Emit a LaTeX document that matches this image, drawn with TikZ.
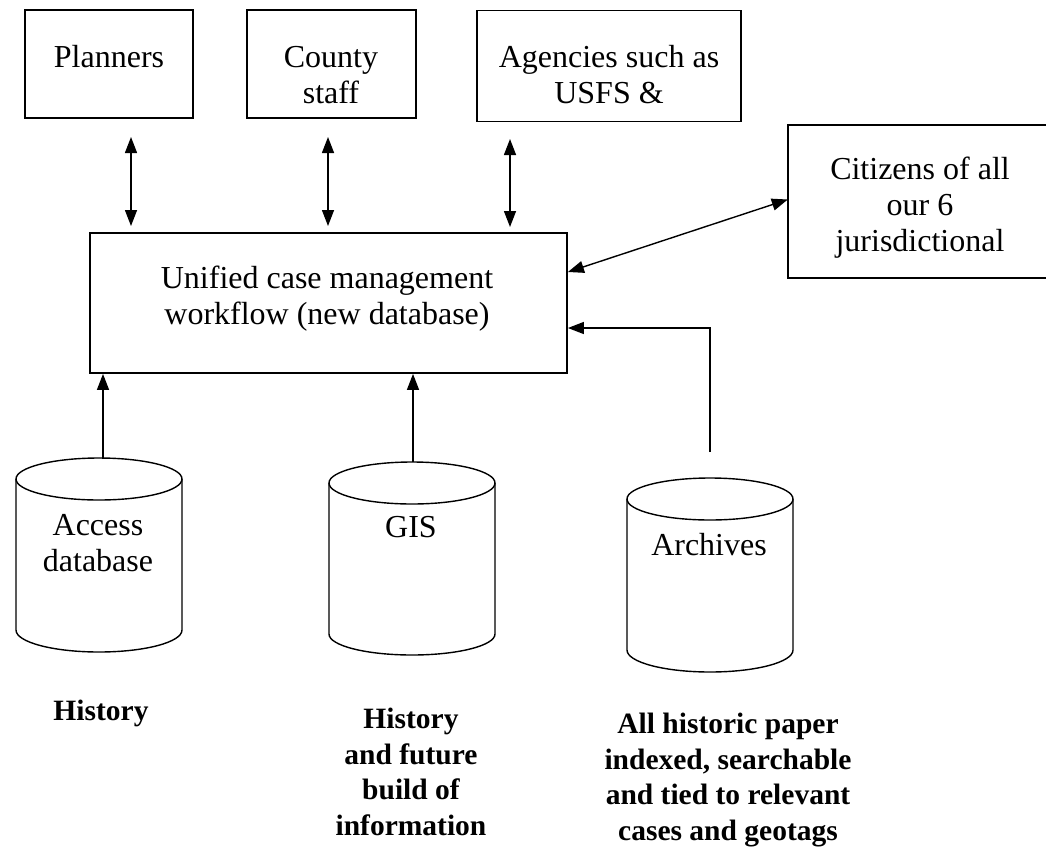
\documentclass[tikz,border=0pt]{standalone}
\usepackage{fontspec}
\setmainfont{Liberation Serif}
\usetikzlibrary{arrows.meta,calc}
\begin{document}
\begin{tikzpicture}[x=1pt,y=-1pt,
  box/.style={draw, line width=1.8pt, inner sep=0pt},
  lbl/.style={align=center, font=\fontsize{32}{36}\selectfont, inner sep=0pt},
  blbl/.style={align=center, font=\fontsize{29.5}{35.5}\selectfont\bfseries, inner sep=0pt},
  conn/.style={line width=1.4pt},
  arr/.style={conn, -{Triangle[length=16pt,width=12pt]}},
  darr/.style={conn, {Triangle[length=16pt,width=12pt]}-{Triangle[length=16pt,width=12pt]}},
  cyl/.style={line width=1.4pt}]
\useasboundingbox (0,0) rectangle (1046,849);
% boxes
\node[box, minimum width=168pt, minimum height=108pt] (pl) at (109,64) {};
\node[box, minimum width=169pt, minimum height=108pt] (co) at (331.5,64) {};
\node[box, minimum width=264pt, minimum height=111pt] (ag) at (609,66) {};
\node[inner sep=0pt, minimum width=260pt, minimum height=153pt] (ci) at (918,201.5) {};
\draw[line width=1.8pt] (ci.north east) -- (ci.north west) -- (ci.south west) -- (ci.south east);
\node[box, minimum width=477pt, minimum height=140pt] (uni) at (328.5,303) {};
% box texts
\node[lbl] (pltxt) at (109,57) {Planners};
\node[lbl] (cotxt) at (331,75) {County\\staff};
\node[lbl] (agtxt) at (609,75) {Agencies such as\\USFS \&};
\node[lbl] (citxt) at (920,208) {Citizens of all\\our 6\\jurisdictional};
\node[lbl] (unitxt) at (327,299) {Unified case management\\workflow (new database)};
% cylinders
\draw[cyl] (99,479) ellipse [x radius=83, y radius=21];
\draw[cyl] (16,479) -- (16,630) arc[start angle=180, end angle=0, x radius=83, y radius=22] -- (182,479);
\draw[cyl] (412,483) ellipse [x radius=83, y radius=21];
\draw[cyl] (329,483) -- (329,634) arc[start angle=180, end angle=0, x radius=83, y radius=21] -- (495,483);
\draw[cyl] (710,499) ellipse [x radius=83, y radius=21];
\draw[cyl] (627,499) -- (627,650) arc[start angle=180, end angle=0, x radius=83, y radius=22] -- (793,499);
\node[lbl] (acctxt) at (98,543) {Access\\database};
\node[lbl] (gistxt) at (411,527) {GIS};
\node[lbl] (arctxt) at (709,545) {Archives};
% bottom labels
\node[blbl] (h1) at (101,713) {History};
\node[blbl] (h2) at (411,772) {History\\and future\\build of\\information};
\node[blbl] (h3) at (728,780) {All historic paper\\indexed, searchable\\and tied to relevant\\cases and geotags};
% connectors
\coordinate (p1) at (131,137); \coordinate (p2) at (131,226);
\coordinate (c1) at (328,137); \coordinate (c2) at (328,226);
\coordinate (a1) at (510,139); \coordinate (a2) at (510,227);
\draw[darr] (p1) -- (p2);
\draw[darr] (c1) -- (c2);
\draw[darr] (a1) -- (a2);
\draw[darr] ([yshift=31pt]uni.east) -- ([yshift=2pt]ci.west);
\coordinate (acctop) at (103,459);
\coordinate (gistop) at (413,462);
\coordinate (arcend) at (710,452);
\draw[arr] (acctop) -- (acctop |- uni.south);
\draw[arr] (gistop) -- (gistop |- uni.south);
\draw[arr] (arcend) |- ([yshift=-25pt]uni.east);
\end{tikzpicture}
\end{document}
